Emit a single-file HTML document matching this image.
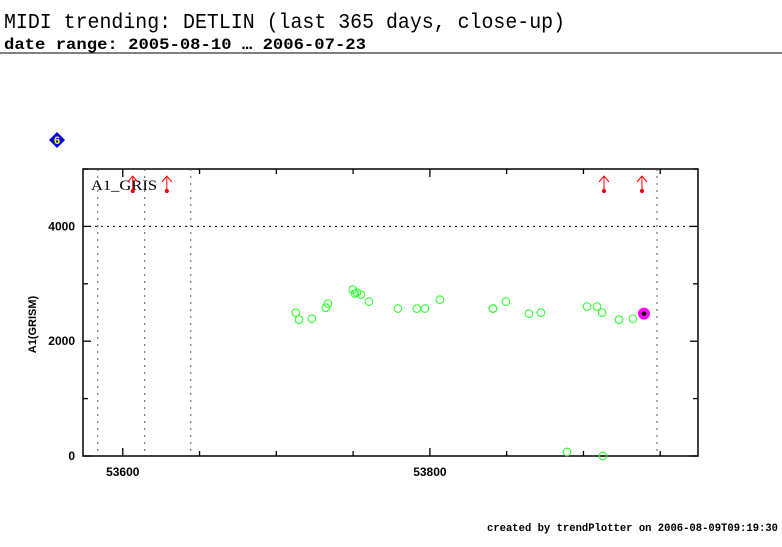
<!DOCTYPE html>
<html><head><meta charset="utf-8"><style>
body{margin:0;background:#fff;width:782px;height:542px;overflow:hidden;font-family:"Liberation Sans",sans-serif}
</style></head><body>
<svg width="782" height="542" xmlns="http://www.w3.org/2000/svg">
<text x="4" y="28" font-family="Liberation Mono" font-size="21" textLength="561" lengthAdjust="spacingAndGlyphs">MIDI trending: DETLIN (last 365 days, close-up)</text>
<text x="4" y="49" font-family="Liberation Mono" font-size="16" font-weight="bold" textLength="362" lengthAdjust="spacingAndGlyphs">date range: 2005-08-10 … 2006-07-23</text>
<line x1="0" y1="53" x2="782" y2="53" stroke="#000" stroke-width="1"/>
<g><polygon points="57,132 65,140 57,148 49,140" fill="#0000ff"/><text x="57" y="144" font-size="11" font-weight="bold" fill="#ffff00" text-anchor="middle">6</text></g>
<g id="plot"></g>
<text x="487" y="531" font-family="Liberation Mono" font-size="11" font-weight="bold" textLength="291" lengthAdjust="spacingAndGlyphs">created by trendPlotter on 2006-08-09T09:19:30</text>
</svg>
<script>
const xs=[112.7,114.7,123.1,132.2,133.6,149.8,151.1,152.4,155,160.3,179.2,191.5,196.7,206.5,241,241.1,249.5,264.5,272.3,289.3,302.3,308.8,312.1,312.7,323.1,332.2];
const ys=[2498,2376,2393,2585,2655,2900,2830,2847,2812,2690,2568,2568,2568,2725,2568,2568,2690,2480,2498,70,2603,2603,2498,0,2376,2393];
const hiX=[339.4], hiY=[2480];
const vlines=[-16.3,14.3,44.3,347.9];
const arrows=[6.5,28.7,313.4,338.1];
const xTicks=[0,200], xTickLabels=["53600","53800"];
const yTicks=[0,2000,4000], yTickLabels=["0","2000","4000"];
const L=83,R=698,T=169,B=456, X0=-25.9,X1=374.6, Y0=0,Y1=5000;
const sx=v=>L+(v-X0)/(X1-X0)*(R-L), sy=v=>B-(v-Y0)/(Y1-Y0)*(B-T);
const g=document.getElementById('plot'),NS="http://www.w3.org/2000/svg";
function mk(t,a,p){const e=document.createElementNS(NS,t);for(const k in a)e.setAttribute(k,a[k]);(p||g).appendChild(e);return e;}
let e=mk('rect',{x:L,y:T,width:R-L,height:B-T,fill:'none',stroke:'#000','stroke-width':1.5});


e=mk('line',{x1:L,x2:R,y1:sy(4000),y2:sy(4000),stroke:'#000','stroke-dasharray':'2,4'});


vlines.forEach(v=>{const l=mk('line',{x1:sx(v),x2:sx(v),y1:T,y2:B,stroke:'#555','stroke-dasharray':'2,5'});

});
for(let v=0;v<=350;v+=50){const big=v%200==0;[[B,B-(big?8:5)],[T,T+(big?8:5)]].forEach(p=>{const l=mk('line',{x1:sx(v),x2:sx(v),y1:p[0],y2:p[1],stroke:'#000','stroke-width':1.3});

});}
xTicks.forEach((v,i)=>{const t=mk('text',{x:sx(v),y:B+20,'font-size':12,'font-weight':'bold','text-anchor':'middle'});t.textContent=xTickLabels[i];

});
for(let v=0;v<=5000;v+=1000){[[L,L+(v%2000==0?8:5)],[R,R-(v%2000==0?8:5)]].forEach(p=>{const l=mk('line',{x1:p[0],x2:p[1],y1:sy(v),y2:sy(v),stroke:'#000','stroke-width':1.3});

});}
yTicks.forEach((v,i)=>{const t=mk('text',{x:L-8,y:sy(v)+4,'font-size':12,'font-weight':'bold','text-anchor':'end'});t.textContent=yTickLabels[i];

});
e=mk('text',{x:0,y:0,'font-size':11,'font-weight':'bold','text-anchor':'middle',transform:`translate(36,${(T+B)/2+12}) rotate(-90)`});e.textContent='A1(GRISM)';


e=mk('text',{x:91,y:190,'font-size':15,'font-family':'Liberation Serif',textLength:66,lengthAdjust:'spacingAndGlyphs'});e.textContent='A1_GRIS';


arrows.forEach(v=>{const a=mk('g',{stroke:'#f00',fill:'none'});


mk('line',{x1:sx(v),x2:sx(v),y1:176,y2:191},a);mk('polyline',{points:`${sx(v)-5},182 ${sx(v)},176 ${sx(v)+5},182`},a);mk('circle',{cx:sx(v),cy:191,r:1.6,fill:'#f00'},a);});
xs.forEach((v,i)=>{const c=mk('circle',{cx:sx(v),cy:sy(ys[i]),r:3.8,fill:'none',stroke:'#33ff33','stroke-width':1.1});

});
hiX.forEach((v,i)=>{const c=mk('circle',{cx:sx(v),cy:sy(hiY[i]),r:6,fill:'#ff00ff'});


mk('circle',{cx:sx(v),cy:sy(hiY[i]),r:2.3,fill:'#000'});});
</script>
</body></html>
